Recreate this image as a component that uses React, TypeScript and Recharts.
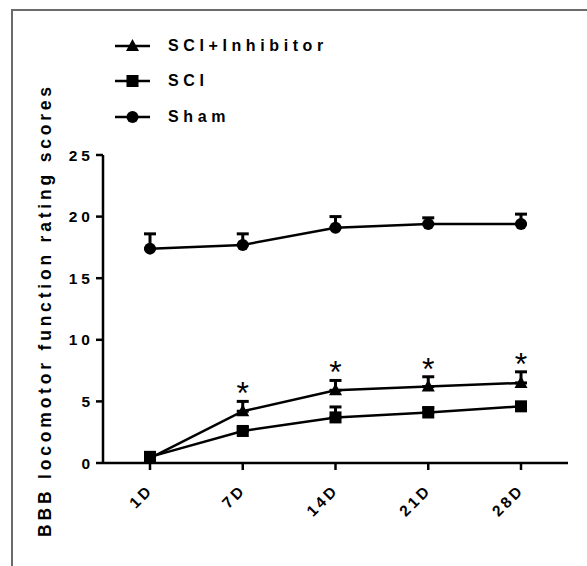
import React from "react"
import { LineChart, Line, XAxis, YAxis, ErrorBar, LabelList } from "recharts"

const days = ["1D", "7D", "14D", "21D", "28D"]
const yTicks = [0, 5, 10, 15, 20, 25]

const shamMean = [17.4, 17.7, 19.1, 19.4, 19.4]
const shamSem = [1.2, 0.9, 0.9, 0.5, 0.8]
const sciMean = [0.5, 2.6, 3.7, 4.1, 4.6]
const sciSem = [0.2, 0.3, 0.85, 0.4, 0.3]
const inhMean = [0.4, 4.2, 5.9, 6.2, 6.5]
const inhSem = [0.2, 0.8, 0.8, 0.8, 0.9]
const significant = [false, true, true, true, true]

const legendItems = [
  { name: "SCI+Inhibitor", shape: "triangle" },
  { name: "SCI", shape: "square" },
  { name: "Sham", shape: "circle" },
]

const FONT = "'Liberation Sans', Arial, sans-serif"

const data = days.map((d, i) => ({
  day: d,
  sham: shamMean[i],
  shamErr: [0, shamSem[i]],
  sci: sciMean[i],
  sciErr: [0, sciSem[i]],
  inh: inhMean[i],
  inhErr: [0, inhSem[i]],
  star: significant[i] ? inhMean[i] + inhSem[i] : null,
}))

function Marker({ shape, cx, cy }: { shape: string; cx: number; cy: number }) {
  if (shape === "triangle") {
    return <polygon points={`${cx},${cy - 7} ${cx - 6.5},${cy + 5} ${cx + 6.5},${cy + 5}`} fill="#000" />
  }
  if (shape === "square") {
    return <rect x={cx - 6} y={cy - 6} width={12} height={12} fill="#000" />
  }
  return <circle cx={cx} cy={cy} r={6} fill="#000" />
}

const dotFor = (shape: string) => (props: any) => {
  const { cx, cy, index } = props
  if (cx == null || cy == null) return <g key={index} />
  return <Marker key={`${shape}-${index}`} shape={shape} cx={cx} cy={cy} />
}

const renderStar = (props: any) => {
  const { x, y, value, index } = props
  if (value == null) return null
  return (
    <text key={index} x={x} y={y + 3} textAnchor="middle" fontSize={32} fontFamily={FONT} fill="#000">
      *
    </text>
  )
}

const XTick = (props: any) => {
  const { x, y, payload } = props
  const px = x + 4
  const py = y + 19
  return (
    <text
      x={px}
      y={py}
      transform={`rotate(-45 ${px} ${py})`}
      textAnchor="end"
      fontSize={15.5}
      fontWeight="bold"
      fontFamily={FONT}
      letterSpacing={3}
      fill="#000"
    >
      {payload.value}
    </text>
  )
}

const YTick = (props: any) => {
  const { x, y, payload } = props
  return (
    <text x={x} y={y + 5.5} textAnchor="end" fontSize={15.5} fontWeight="bold" fontFamily={FONT} letterSpacing={4} fill="#000">
      {payload.value}
    </text>
  )
}

const LegendBox = () => (
  <div style={{ position: "absolute", left: 113, top: 28, fontFamily: FONT }}>
    {legendItems.map((item) => (
      <div key={item.name} style={{ display: "flex", alignItems: "center", height: 35.5 }}>
        <svg width={40} height={20}>
          <line x1={2} y1={10} x2={37} y2={10} stroke="#000" strokeWidth={2.5} />
          <Marker shape={item.shape} cx={19.5} cy={10} />
        </svg>
        <span style={{ marginLeft: 15, fontSize: 16, fontWeight: "bold", letterSpacing: 4.6, color: "#000" }}>
          {item.name}
        </span>
      </div>
    ))}
  </div>
)

export default function App() {
  return (
    <div style={{ position: "absolute", left: 0, top: 0, width: 587, height: 566, background: "#fff" }}>
      <div
        style={{
          position: "absolute",
          left: 11,
          top: 9,
          width: 576,
          height: 557,
          borderTop: "2px solid #6b6b6b",
          borderLeft: "2px solid #6b6b6b",
          boxSizing: "border-box",
        }}
      />
      <LineChart width={587} height={566} data={data} margin={{ top: 155, right: 19, bottom: 43, left: 43 }}>
        <XAxis
          dataKey="day"
          tick={<XTick />}
          tickLine={{ stroke: "#000", strokeWidth: 2.5 }}
          axisLine={{ stroke: "#000", strokeWidth: 2.5 }}
          tickSize={7}
          height={60}
          interval={0}
          padding={{ left: 47, right: 47 }}
        />
        <YAxis
          domain={[0, 25]}
          ticks={yTicks}
          tick={<YTick />}
          tickLine={{ stroke: "#000", strokeWidth: 2.5 }}
          axisLine={{ stroke: "#000", strokeWidth: 2.5 }}
          tickSize={7}
          width={60}
          label={{
            content: () => (
              <text
                x={51}
                y={310}
                transform="rotate(-90 51 310)"
                textAnchor="middle"
                fontSize={17.5}
                fontWeight="bold"
                fontFamily={FONT}
                letterSpacing={3.8}
                fill="#000"
              >
                BBB locomotor function rating scores
              </text>
            ),
          }}
        />
        <Line dataKey="inh" name="SCI+Inhibitor" stroke="#000" strokeWidth={2.5} dot={dotFor("triangle")} activeDot={false} isAnimationActive={false}>
          <ErrorBar dataKey="inhErr" width={6} strokeWidth={3} stroke="#000" direction="y" />
        </Line>
        <Line dataKey="sci" name="SCI" stroke="#000" strokeWidth={2.5} dot={dotFor("square")} activeDot={false} isAnimationActive={false}>
          <ErrorBar dataKey="sciErr" width={6} strokeWidth={3} stroke="#000" direction="y" />
        </Line>
        <Line dataKey="sham" name="Sham" stroke="#000" strokeWidth={2.5} dot={dotFor("circle")} activeDot={false} isAnimationActive={false}>
          <ErrorBar dataKey="shamErr" width={6} strokeWidth={3} stroke="#000" direction="y" />
        </Line>
        <Line dataKey="star" stroke="none" dot={false} activeDot={false} legendType="none" isAnimationActive={false}>
          <LabelList dataKey="star" content={renderStar} />
        </Line>
      </LineChart>
      <LegendBox />
    </div>
  )
}
